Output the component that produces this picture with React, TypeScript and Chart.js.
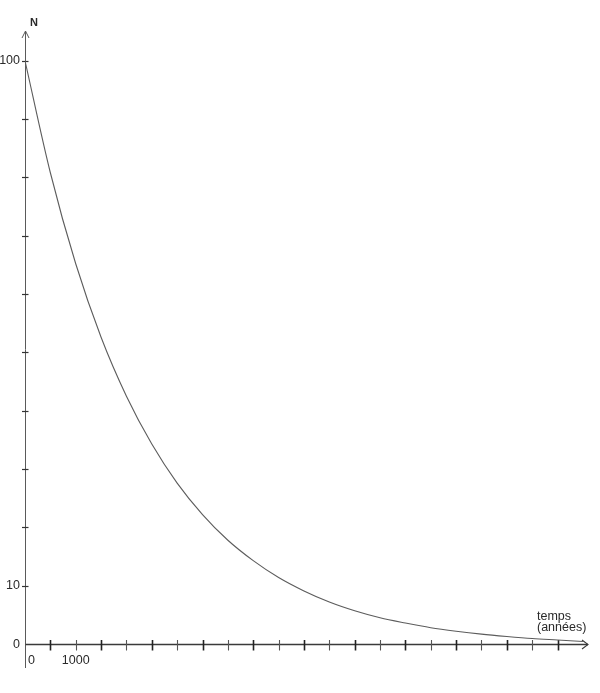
import React, { useEffect, useRef } from "react";
import { Chart, registerables } from "chart.js";

Chart.register(...registerables);

// Time in years (read every 500 years)
const years = [0, 500, 1000, 1500, 2000, 2500, 3000, 3500, 4000, 4500, 5000, 5500, 6000, 6500, 7000, 7500, 8000, 8500, 9000, 9500, 10000, 10500, 11000];
// N values
const nValues = [100, 80.8, 65.2, 52.6, 42.5, 34.3, 27.6, 22.2, 17.8, 14.3, 11.4, 9.1, 7.2, 5.7, 4.5, 3.6, 2.8, 2.2, 1.7, 1.3, 0.95, 0.7, 0.45];

// Axis ticks and labels
const xTickValues = [500, 1000, 1500, 2000, 2500, 3000, 3500, 4000, 4500, 5000, 5500, 6000, 6500, 7000, 7500, 8000, 8500, 9000, 9500, 10000, 10500];
const yTickValues = [10, 20, 30, 40, 50, 60, 70, 80, 90, 100];
const yLabelValues = [0, 10, 100];
const xLabelValues = [0, 1000];
const yAxisTitle = "N";
const xAxisTitle = ["temps", "(années)"];

const FONT = '"Liberation Sans", Arial, sans-serif';

const axesPlugin = {
  id: "handAxes",
  beforeDatasetsDraw(chart: any) {
    const { ctx, chartArea, scales } = chart;
    const xs = scales.x;
    const ys = scales.y;
    const x0 = Math.round(xs.getPixelForValue(0)) + 0.5;
    const y0 = Math.round(ys.getPixelForValue(0)) + 0.5;
    ctx.save();
    // y axis
    ctx.strokeStyle = "#5a5a5a";
    ctx.lineWidth = 1;
    ctx.beginPath();
    ctx.moveTo(x0, chartArea.top);
    ctx.lineTo(x0, chartArea.bottom);
    ctx.stroke();
    ctx.beginPath();
    ctx.moveTo(x0 - 3.5, chartArea.top + 7);
    ctx.lineTo(x0, chartArea.top);
    ctx.lineTo(x0 + 3.5, chartArea.top + 7);
    ctx.stroke();
    // y ticks
    ctx.strokeStyle = "#333";
    ctx.lineWidth = 1.2;
    for (const v of yTickValues) {
      const py = Math.round(ys.getPixelForValue(v)) + 0.5;
      ctx.beginPath();
      ctx.moveTo(x0 - 3.5, py);
      ctx.lineTo(x0 + 3, py);
      ctx.stroke();
    }
    // x axis
    ctx.strokeStyle = "#3a3a3a";
    ctx.lineWidth = 1.4;
    ctx.beginPath();
    ctx.moveTo(x0, y0);
    ctx.lineTo(chartArea.right, y0);
    ctx.stroke();
    ctx.lineWidth = 1.1;
    ctx.beginPath();
    ctx.moveTo(chartArea.right - 6, y0 - 4.5);
    ctx.lineTo(chartArea.right, y0);
    ctx.lineTo(chartArea.right - 6, y0 + 4.5);
    ctx.stroke();
    // x ticks
    xTickValues.forEach((v, i) => {
      const px = Math.round(xs.getPixelForValue(v)) + 0.5;
      ctx.strokeStyle = i % 2 === 0 ? "#222" : "#555";
      ctx.lineWidth = i % 2 === 0 ? 1.6 : 1.1;
      ctx.beginPath();
      ctx.moveTo(px, y0 - 4.5);
      ctx.lineTo(px, y0 + 6);
      ctx.stroke();
    });
    ctx.restore();
  },
  afterDraw(chart: any) {
    const { ctx, chartArea, scales } = chart;
    const xs = scales.x;
    const ys = scales.y;
    const x0 = xs.getPixelForValue(0);
    const y0 = ys.getPixelForValue(0);
    ctx.save();
    ctx.fillStyle = "#2a2a2a";
    ctx.font = `12.5px ${FONT}`;
    // y labels
    ctx.textAlign = "right";
    ctx.textBaseline = "middle";
    for (const v of yLabelValues) {
      ctx.fillText(String(v), x0 - 5, ys.getPixelForValue(v));
    }
    // x labels
    ctx.textBaseline = "top";
    for (const v of xLabelValues) {
      const px = xs.getPixelForValue(v);
      if (v === 0) {
        ctx.textAlign = "left";
        ctx.fillText(String(v), px + 3, y0 + 10);
      } else {
        ctx.textAlign = "center";
        ctx.fillText(String(v), px, y0 + 10);
      }
    }
    // y axis title
    ctx.font = `bold 11px ${FONT}`;
    ctx.textAlign = "left";
    ctx.textBaseline = "alphabetic";
    ctx.fillText(yAxisTitle, x0 + 5, chartArea.top - 5);
    // x axis title
    ctx.font = `12.5px ${FONT}`;
    ctx.textAlign = "left";
    ctx.fillText(xAxisTitle[0], chartArea.right - 51, y0 - 24);
    ctx.fillText(xAxisTitle[1], chartArea.right - 51, y0 - 13);
    ctx.restore();
  },
};

export default function App() {
  const canvasRef = useRef<HTMLCanvasElement | null>(null);

  useEffect(() => {
    const canvas = canvasRef.current;
    if (!canvas) return;
    const chart = new Chart(canvas, {
      type: "line",
      data: {
        datasets: [
          {
            data: years.map((t, i) => ({ x: t, y: nValues[i] })),
            borderColor: "#5c5c5c",
            borderWidth: 1.1,
            pointRadius: 0,
            cubicInterpolationMode: "monotone",
            fill: false,
          },
        ],
      },
      options: {
        responsive: false,
        animation: false,
        layout: { padding: { left: 25, right: 12, top: 31, bottom: 25 } },
        scales: {
          x: { type: "linear", min: 0, max: 11100, display: false },
          y: { type: "linear", min: -4.1, max: 105.1, display: false },
        },
        plugins: {
          legend: { display: false },
          tooltip: { enabled: false },
        },
      },
      plugins: [axesPlugin],
    });
    return () => chart.destroy();
  }, []);

  return (
    <div style={{ position: "absolute", left: 0, top: 0, width: 600, height: 693, background: "#fff" }}>
      <canvas ref={canvasRef} width={600} height={693} />
    </div>
  );
}
